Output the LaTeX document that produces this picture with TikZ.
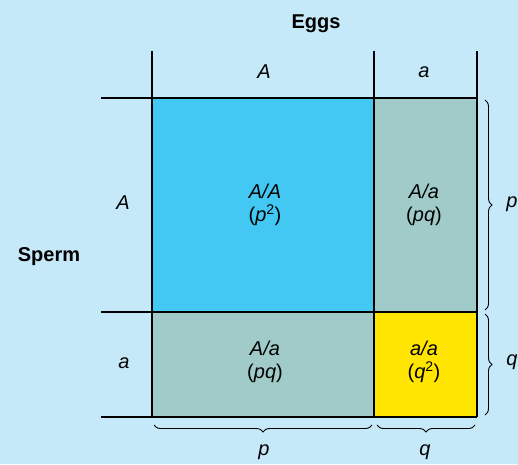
\documentclass[tikz,border=0pt]{standalone}
\usepackage{fontspec}
\setmainfont{Liberation Sans}
\usetikzlibrary{decorations.pathreplacing}
\definecolor{bg}{RGB}{198,233,249}
\definecolor{cellblue}{RGB}{66,200,243}
\definecolor{cellteal}{RGB}{160,203,200}
\definecolor{cellyellow}{RGB}{255,229,0}
\tikzset{
  lbl/.style={font=\fontsize{20}{23}\selectfont\itshape, inner sep=0pt},
  head/.style={font=\fontsize{20}{23}\selectfont\bfseries, inner sep=0pt},
  cell/.style={font=\fontsize{20}{23}\selectfont, align=center, inner sep=0pt},
  grid/.style={line width=2.6pt},
  brc/.style={decorate, decoration={brace, amplitude=7pt}, line width=0.9pt},
}
\begin{document}
\begin{tikzpicture}[x=1pt,y=-1pt]
\fill[bg] (0,0) rectangle (518,464);
\useasboundingbox (0,0) rectangle (518,464);
% cells
\fill[cellblue] (152,98) rectangle (374,312);
\fill[cellteal] (374,98) rectangle (477,312);
\fill[cellteal] (152,312) rectangle (374,417);
\fill[cellyellow] (374,312) rectangle (477,417);
% grid
\draw[grid] (152,51) -- (152,417);
\draw[grid] (374,51) -- (374,417);
\draw[grid] (477,51) -- (477,417);
\draw[grid] (101,98) -- (477,98);
\draw[grid] (101,312) -- (477,312);
\draw[grid] (101,417) -- (477,417);
% headings
\node[head] (eggs) at (316,24) {Eggs};
\node[head] (sperm) at (49,257) {Sperm};
\node[lbl] (eA) at (264,72) {A};
\node[lbl] (ea) at (424,72) {a};
\node[lbl] (sA) at (123,203) {A};
\node[lbl] (sa) at (124,363) {a};
% cell texts
\node[cell] (AA) at (265,205) {\textit{A/A}\\(\textit{p}\textsuperscript{2})};
\node[cell] (Aa1) at (424,205) {\textit{A/a}\\(\textit{pq})};
\node[cell] (Aa2) at (265,362) {\textit{A/a}\\(\textit{pq})};
\node[cell] (aa) at (424,362) {\textit{a/a}\\(\textit{q}\textsuperscript{2})};
% braces
\coordinate (rp1) at (485,100);
\coordinate (rp2) at (485,310);
\coordinate (rq1) at (485,314);
\coordinate (rq2) at (485,415);
\coordinate (bp1) at (154,425);
\coordinate (bp2) at (372,425);
\coordinate (bq1) at (377,425);
\coordinate (bq2) at (475,425);
\draw[brc] (rp1) -- (rp2);
\draw[brc] (rq1) -- (rq2);
\draw[brc] (bp2) -- (bp1);
\draw[brc] (bq2) -- (bq1);
\node[lbl] (rp) at (512,204) {p};
\node[lbl] (rq) at (512,362) {q};
\node[lbl] (bp) at (264,452) {p};
\node[lbl] (bq) at (425,452) {q};
\end{tikzpicture}
\end{document}
